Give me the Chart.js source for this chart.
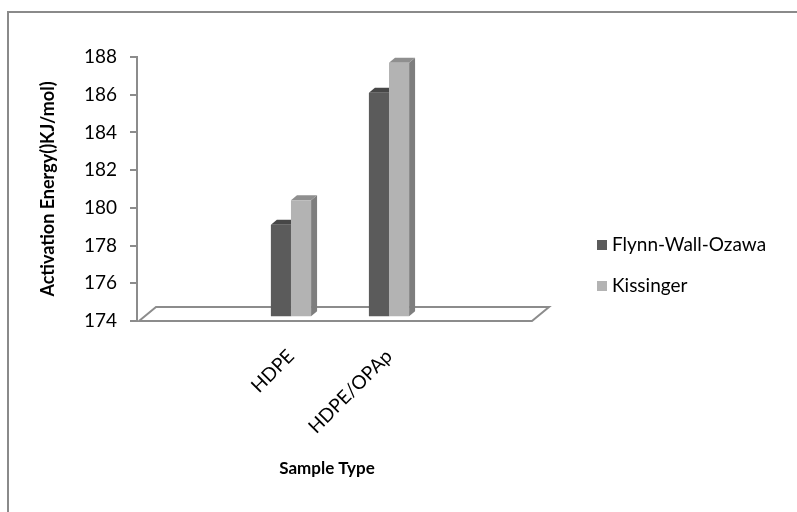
<!DOCTYPE html>
<html>
<head>
<meta charset="utf-8">
<script src="https://cdn.jsdelivr.net/npm/chart.js@4.4.1/dist/chart.umd.min.js"></script>
<style>
  html, body { margin: 0; padding: 0; background: #fff; }
  #wrap { width: 797px; height: 512px; }
</style>
</head>
<body>
<div id="wrap"><canvas id="barChart"></canvas></div>
<script>
const categories = ['HDPE', 'HDPE/OPAp'];
const seriesNames = ['Flynn-Wall-Ozawa', 'Kissinger'];
const flynnWallOzawa = [179.1, 186.1];
const kissinger = [180.4, 187.7];
const yTicks = [174, 176, 178, 180, 182, 184, 186, 188];

const AXIS_GREY = '#8c8c8c';
const FONT = 'Lato, "Open Sans", sans-serif';
const barDepth = { dx: 6, dy: 5 };
const floorDepth = { dx: 17, dy: 14 };
const floorOverhang = 32; // floor runs a little past the plot area on the right

// front / top / side shades for each series
const faces = [
    { front: '#5b5b5b', top: '#474747', side: '#4e4e4e' },
    { front: '#b3b3b3', top: '#8f8f8f', side: '#7e7e7e' }
];

function poly(ctx, pts, fill) {
    ctx.beginPath();
    ctx.moveTo(pts[0][0], pts[0][1]);
    for (let i = 1; i < pts.length; i++) ctx.lineTo(pts[i][0], pts[i][1]);
    ctx.closePath();
    ctx.fillStyle = fill;
    ctx.fill();
}

// white page with the grey frame along the top and left
const framePlugin = {
    id: 'frame',
    beforeDraw(chart) {
        const ctx = chart.ctx;
        ctx.save();
        ctx.fillStyle = '#fff';
        ctx.fillRect(0, 0, chart.width, chart.height);
        ctx.strokeStyle = '#8a8a8a';
        ctx.lineWidth = 2;
        ctx.beginPath();
        ctx.moveTo(8, chart.height);
        ctx.lineTo(8, 12);
        ctx.lineTo(chart.width, 12);
        ctx.stroke();
        ctx.restore();
    }
};

// floor plane plus top caps and right sides of the columns
const depthPlugin = {
    id: 'depth',
    beforeDatasetsDraw(chart) {
        const ctx = chart.ctx;
        const ca = chart.chartArea;
        const L = ca.left + 2, R = ca.right + floorOverhang, B = ca.bottom;
        ctx.save();
        ctx.beginPath();
        ctx.moveTo(L, B);
        ctx.lineTo(L + floorDepth.dx, B - floorDepth.dy);
        ctx.lineTo(R, B - floorDepth.dy);
        ctx.lineTo(R - floorDepth.dx, B);
        ctx.closePath();
        ctx.fillStyle = '#fff';
        ctx.fill();
        ctx.strokeStyle = AXIS_GREY;
        ctx.lineWidth = 2;
        ctx.stroke();

        const { dx, dy } = barDepth;
        chart.data.datasets.forEach((ds, di) => {
            chart.getDatasetMeta(di).data.forEach(bar => {
                const left = bar.x - bar.width / 2;
                const right = bar.x + bar.width / 2;
                poly(ctx, [[right, bar.y], [right + dx, bar.y - dy], [right + dx, bar.base - dy], [right, bar.base]], faces[di].side);
                poly(ctx, [[left, bar.y], [left + dx, bar.y - dy], [right + dx, bar.y - dy], [right, bar.y]], faces[di].top);
            });
        });
        ctx.restore();
    }
};

const legendPlugin = {
    id: 'sideLegend',
    afterDraw(chart) {
        const ctx = chart.ctx;
        ctx.save();
        ctx.font = '19px ' + FONT;
        ctx.textBaseline = 'middle';
        chart.data.datasets.forEach((ds, i) => {
            const y = 245 + i * 41;
            ctx.fillStyle = ds.backgroundColor;
            ctx.fillRect(597, y - 5, 10, 10);
            ctx.fillStyle = '#000';
            ctx.fillText(ds.label, 612, y);
        });
        ctx.restore();
    }
};

const ctx = document.getElementById('barChart').getContext('2d');
new Chart(ctx, {
    type: 'bar',
    data: {
        datasets: [flynnWallOzawa, kissinger].map((vals, i) => ({
            label: seriesNames[i],
            data: vals.map((v, k) => ({ x: k, y: v })),
            backgroundColor: faces[i].front,
            borderWidth: 0,
            base: 174.25,
            categoryPercentage: 0.41,
            barPercentage: 1
        }))
    },
    options: {
        responsive: true,
        maintainAspectRatio: false,
        animation: false,
        layout: { padding: { top: 57, right: 280, bottom: 0, left: 0 } },
        plugins: {
            legend: { display: false },
            tooltip: { enabled: false }
        },
        scales: {
            x: {
                type: 'linear',
                offset: false,
                min: -1.571,
                max: 2.306,
                afterBuildTicks: s => { s.ticks = categories.map((c, i) => ({ value: i })); },
                afterFit: s => { s.height = 191; },
                ticks: {
                    callback: v => categories[v] ?? '',
                    autoSkip: false,
                    minRotation: 45,
                    maxRotation: 45,
                    padding: 16,
                    color: '#000',
                    font: { family: FONT, size: 19 }
                },
                grid: { display: false },
                border: { display: false },
                title: {
                    display: true,
                    text: 'Sample Type',
                    color: '#000',
                    font: { family: FONT, size: 17, weight: 'bold' },
                    padding: { top: 0, bottom: 33 }
                }
            },
            y: {
                min: 174,
                max: 188,
                afterBuildTicks: s => { s.ticks = yTicks.map(v => ({ value: v })); },
                afterFit: s => { s.width = 137; },
                ticks: {
                    padding: 13,
                    color: '#000',
                    font: { family: FONT, size: 19 }
                },
                grid: { drawOnChartArea: false, tickLength: 7, color: AXIS_GREY, lineWidth: 2 },
                border: { color: AXIS_GREY, width: 2 },
                title: {
                    display: true,
                    text: 'Activation Energy()KJ/mol)',
                    color: '#000',
                    font: { family: FONT, size: 18, weight: 'bold' },
                    padding: { top: 37, bottom: 0 }
                }
            }
        }
    },
    plugins: [framePlugin, depthPlugin, legendPlugin]
});
</script>
</body>
</html>
